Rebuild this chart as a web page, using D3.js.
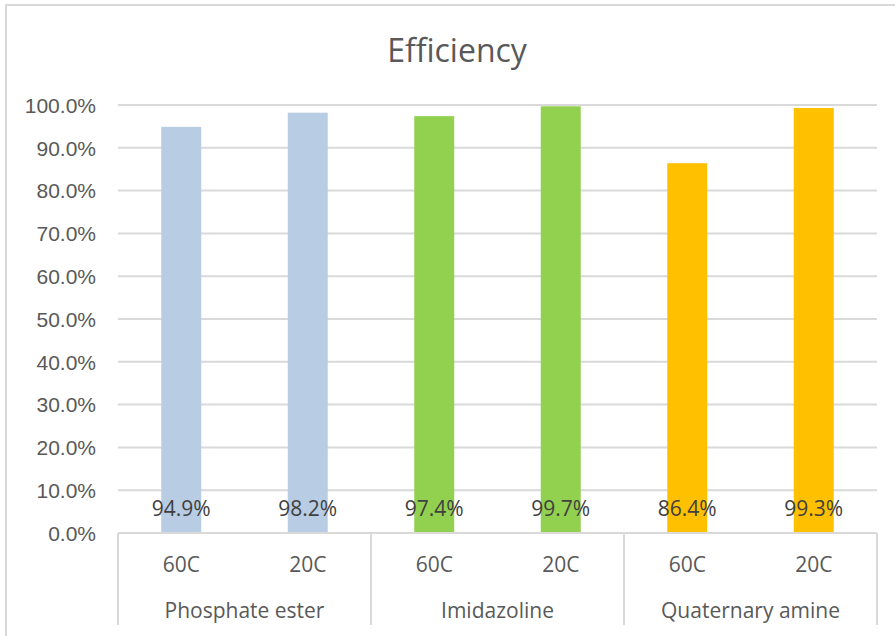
<!DOCTYPE html>
<html>
<head>
<meta charset="utf-8">
<script src="https://cdn.jsdelivr.net/npm/d3@7"></script>
<style>
  body { margin: 0; background: #fff; }
  svg { font-family: "Open Sans", sans-serif; }
  .tick text { fill: #595959; font-size: 21px; }
</style>
</head>
<body>
<svg id="chart" width="895" height="636"></svg>
<script>
// chart data
const groups = ["Phosphate ester", "Imidazoline", "Quaternary amine"];
const temps = ["60C", "20C"];
const values = [0.949, 0.982, 0.974, 0.997, 0.864, 0.993];
const groupColors = ["#B8CCE4", "#92D050", "#FFC000"];
const yTicks = [0, 0.1, 0.2, 0.3, 0.4, 0.5, 0.6, 0.7, 0.8, 0.9, 1.0];

const svg = d3.select("#chart");

const margin = { left: 118, right: 18, top: 105, bottom: 103 };
const width = 895;
const height = 636;

// build the rows from the arrays
const rows = [];
groups.forEach(function (g, gi) {
  temps.forEach(function (t, ti) {
    rows.push({
      group: g,
      temp: t,
      key: g + "|" + t,
      value: values[gi * temps.length + ti],
      color: groupColors[gi],
    });
  });
});

// outer border
svg
  .append("rect")
  .attr("x", 6)
  .attr("y", 5)
  .attr("width", 1000)
  .attr("height", 1000)
  .attr("fill", "none")
  .attr("stroke", "#d9d9d9")
  .attr("stroke-width", 2);

// title
svg
  .append("text")
  .attr("x", 457)
  .attr("y", 62)
  .attr("text-anchor", "middle")
  .attr("fill", "#595959")
  .attr("font-size", 32)
  .text("Efficiency");

const x = d3
  .scaleBand()
  .domain(rows.map((d) => d.key))
  .range([margin.left, width - margin.right])
  .paddingInner(0.684)
  .paddingOuter(0.342);

const y = d3
  .scaleLinear()
  .domain([0, 1])
  .range([height - margin.bottom, margin.top]);

// y gridlines
svg
  .append("g")
  .attr("class", "grid")
  .selectAll("line")
  .data(yTicks)
  .enter()
  .append("line")
  .attr("x1", margin.left)
  .attr("x2", width - margin.right)
  .attr("y1", (d) => y(d))
  .attr("y2", (d) => y(d))
  .attr("stroke", "#d9d9d9")
  .attr("stroke-width", 2);

// y axis (labels only)
const yAxis = svg
  .append("g")
  .attr("transform", "translate(" + (margin.left - 22) + ",0)")
  .call(
    d3
      .axisLeft(y)
      .tickValues(yTicks)
      .tickSize(0)
      .tickPadding(0)
      .tickFormat(d3.format(".1%"))
  );
yAxis.select(".domain").remove();
yAxis.selectAll(".tick text").attr("dy", "0.35em");

// bars
svg
  .append("g")
  .selectAll("rect")
  .data(rows)
  .enter()
  .append("rect")
  .attr("x", (d) => x(d.key))
  .attr("width", x.bandwidth())
  .attr("y", (d) => y(d.value))
  .attr("height", (d) => y(0) - y(d.value))
  .attr("fill", (d) => d.color);

// data labels at the base of each bar
svg
  .append("g")
  .selectAll("text")
  .data(rows)
  .enter()
  .append("text")
  .attr("x", (d) => x(d.key) + x.bandwidth() / 2)
  .attr("y", y(0) - 24)
  .attr("dy", "0.35em")
  .attr("text-anchor", "middle")
  .attr("fill", "#404040")
  .attr("font-size", 21)
  .text((d) => d3.format(".1%")(d.value));

// category axis line
const axisY = y(0);
const axisBottom = 625;
svg
  .append("line")
  .attr("x1", margin.left)
  .attr("x2", width - margin.right)
  .attr("y1", axisY)
  .attr("y2", axisY)
  .attr("stroke", "#d9d9d9")
  .attr("stroke-width", 2);

// group separators
const step = x.step();
const groupSize = temps.length;
const seps = d3.range(groups.length + 1).map(function (i) {
  return margin.left + i * groupSize * step;
});
svg
  .append("g")
  .selectAll("line")
  .data(seps)
  .enter()
  .append("line")
  .attr("x1", (d) => d)
  .attr("x2", (d) => d)
  .attr("y1", axisY)
  .attr("y2", axisBottom)
  .attr("stroke", "#d9d9d9")
  .attr("stroke-width", 2);

// temperature labels
svg
  .append("g")
  .selectAll("text")
  .data(rows)
  .enter()
  .append("text")
  .attr("x", (d) => x(d.key) + x.bandwidth() / 2)
  .attr("y", 565)
  .attr("dy", "0.35em")
  .attr("text-anchor", "middle")
  .attr("fill", "#595959")
  .attr("font-size", 21)
  .text((d) => d.temp);

// group labels
svg
  .append("g")
  .selectAll("text")
  .data(groups)
  .enter()
  .append("text")
  .attr("x", (d, i) => (seps[i] + seps[i + 1]) / 2)
  .attr("y", 611)
  .attr("dy", "0.35em")
  .attr("text-anchor", "middle")
  .attr("fill", "#595959")
  .attr("font-size", 21)
  .text((d) => d);
</script>
</body>
</html>
